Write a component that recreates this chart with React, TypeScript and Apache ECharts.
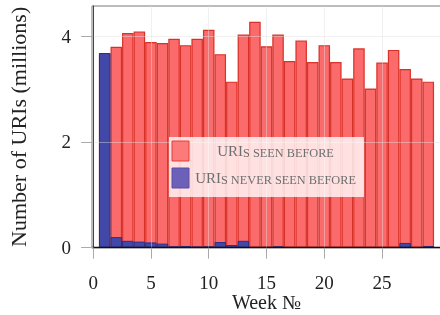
import React, { useEffect, useRef } from "react";
import * as echarts from "echarts";

const weeks = [1, 2, 3, 4, 5, 6, 7, 8, 9, 10, 11, 12, 13, 14, 15, 16, 17, 18, 19, 20, 21, 22, 23, 24, 25, 26, 27, 28, 29];
// millions of URIs: total per week (top of each bar) and the part never seen before
const totalUris = [3.68, 3.8, 4.06, 4.09, 3.89, 3.87, 3.95, 3.83, 3.95, 4.12, 3.66, 3.14, 4.03, 4.27, 3.81, 4.03, 3.53, 3.92, 3.51, 3.83, 3.51, 3.2, 3.77, 3.01, 3.5, 3.74, 3.38, 3.2, 3.14];
const neverSeen = [3.68, 0.2, 0.13, 0.115, 0.1, 0.077, 0.025, 0.03, 0.02, 0.025, 0.107, 0.05, 0.13, 0.01, 0.01, 0.025, 0.008, 0.008, 0.008, 0.008, 0.008, 0.008, 0.008, 0.008, 0.008, 0.008, 0.09, 0.008, 0.03];
const xTicks = [0, 5, 10, 15, 20, 25];
const yTicks = [0, 2, 4];
const legendLabels = ["URIs seen before", "URIs never seen before"];

const FONT = "Liberation Serif";

function smallCaps(label: string) {
  const head = label.slice(0, 3);
  const tail = label.slice(3).toUpperCase();
  return `{a|${head}}{b|${tail}}`;
}

export default function App() {
  const ref = useRef<HTMLDivElement>(null);
  useEffect(() => {
    const chart = echarts.init(ref.current!, null, { renderer: "svg" });
    const W = 440;
    const gridLeft = 92;
    const gridRight = -1;
    const xMin = -0.1;
    const xMax = 30.1;
    const barW = (W - gridLeft - gridRight) / (xMax - xMin);
    const rich = {
      a: { fontFamily: FONT, fontSize: 15, lineHeight: 15, verticalAlign: "bottom", fill: "#6e6e6e" },
      b: { fontFamily: FONT, fontSize: 12.3, lineHeight: 12.3, verticalAlign: "bottom", fill: "#6e6e6e" },
    };
    chart.setOption({
      animation: false,
      grid: {
        left: gridLeft,
        right: gridRight,
        top: 6,
        bottom: 67.3,
        outerBoundsMode: "none",
        containLabel: false,
        show: true,
        borderColor: "#7a7a7a",
        borderWidth: 1,
        backgroundColor: "transparent",
      },
      xAxis: {
        type: "value",
        min: xMin,
        max: xMax,
        splitNumber: 6,
        z: 3,
        name: "Week №",
        nameLocation: "middle",
        nameMoveOverlap: false,
        nameGap: 44,
        nameTextStyle: { fontFamily: FONT, fontSize: 20, lineHeight: 20, color: "#222" },
        axisLine: { show: true, onZero: false, lineStyle: { color: "#111", width: 1.3 } },
        axisTick: { show: true, customValues: xTicks, length: 11, lineStyle: { color: "#aaa" } },
        axisLabel: {
          customValues: xTicks,
          margin: 25,
          fontFamily: FONT,
          fontSize: 19,
          color: "#222",
          formatter: (v: number) => (xTicks.includes(v) ? String(v) : ""),
        },
        splitLine: { show: true, lineStyle: { color: "rgba(225,225,225,0.45)", width: 1 } },
      },
      yAxis: {
        type: "value",
        min: 0,
        max: 4.57,
        interval: 2,
        z: 3,
        name: "Number of URIs (millions)",
        nameLocation: "middle",
        nameMoveOverlap: false,
        nameGap: 63,
        nameTextStyle: { fontFamily: FONT, fontSize: 22, color: "#222" },
        axisLine: { show: true, lineStyle: { color: "#444", width: 1 } },
        axisTick: { show: true, customValues: yTicks, length: 12, lineStyle: { color: "#aaa" } },
        axisLabel: {
          customValues: yTicks,
          margin: 21,
          fontFamily: FONT,
          fontSize: 19,
          color: "#222",
          formatter: (v: number) => (yTicks.includes(v) ? String(v) : ""),
        },
        splitLine: { show: true, lineStyle: { color: "rgba(225,225,225,0.45)", width: 1 } },
      },
      series: [
        {
          name: legendLabels[0],
          type: "bar",
          barWidth: barW,
          barGap: "-100%",
          z: 2,
          data: weeks.map((w, i) => [w, totalUris[i]]),
          itemStyle: { color: "#fc6b6b", borderColor: "rgba(212,35,25,0.9)", borderWidth: 1.2 },
        },
        {
          name: legendLabels[1],
          type: "bar",
          barWidth: barW,
          barGap: "-100%",
          z: 2,
          data: weeks.map((w, i) => [w, neverSeen[i]]),
          itemStyle: { color: "#4248a8", borderColor: "#2b2f86", borderWidth: 1 },
        },
      ],
      graphic: [
        {
          type: "rect",
          z: 100,
          shape: { x: 169, y: 137, width: 195, height: 60 },
          style: { fill: "rgba(255,255,255,0.8)" },
        },
        {
          type: "rect",
          z: 101,
          shape: { x: 172, y: 141, width: 17, height: 20 },
          style: { fill: "#fd7a7a", stroke: "#e04038", lineWidth: 1 },
        },
        {
          type: "rect",
          z: 101,
          shape: { x: 172, y: 168, width: 17, height: 20 },
          style: { fill: "#6c60b8", stroke: "#5a4da8", lineWidth: 1 },
        },
        {
          type: "text",
          z: 101,
          x: 275.5,
          y: 151,
          style: { text: smallCaps(legendLabels[0]), rich, align: "center", verticalAlign: "middle", fill: "#6e6e6e" },
        },
        {
          type: "text",
          z: 101,
          x: 275.5,
          y: 178,
          style: { text: smallCaps(legendLabels[1]), rich, align: "center", verticalAlign: "middle", fill: "#6e6e6e" },
        },
      ],
    });
    return () => chart.dispose();
  }, []);
  return <div ref={ref} style={{ position: "fixed", left: 0, top: 0, width: 440, height: 315 }} />;
}
